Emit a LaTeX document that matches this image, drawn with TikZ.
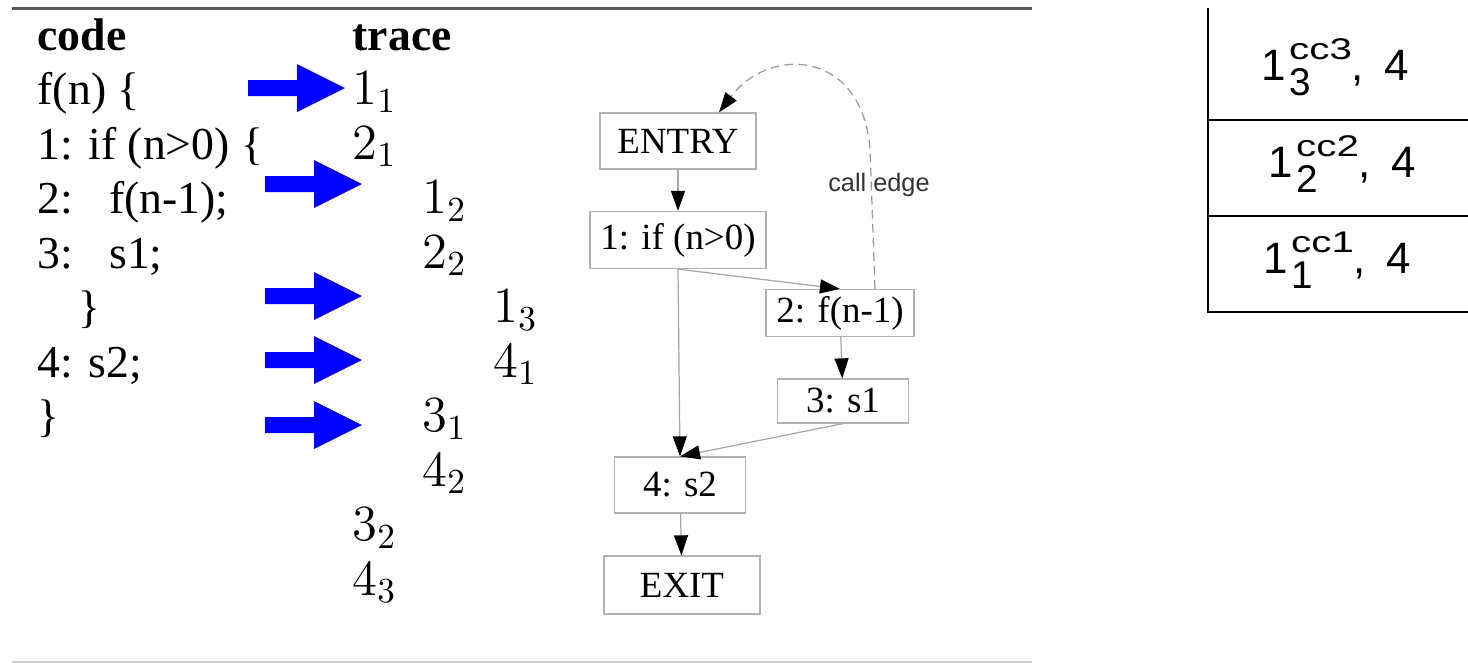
\documentclass[tikz,border=0pt]{standalone}
\usepackage[no-math]{fontspec}
\setmainfont{Liberation Serif}
\setsansfont{Liberation Sans}
\usepackage{graphicx}
\usetikzlibrary{arrows.meta}

\begin{document}
\begin{tikzpicture}[x=0.01cm,y=-0.01cm,>={Triangle[length=0.2cm,width=0.14cm,color=black]}]
  \tikzstyle{codeline}=[anchor=base west, inner sep=0pt, font=\fontsize{13}{16}\selectfont]
  \tikzstyle{head}=[anchor=base west, inner sep=0pt, font=\fontsize{13}{16}\selectfont\bfseries]
  \tikzstyle{tr}=[anchor=base west, inner sep=0pt, font=\fontsize{13.7}{16}\selectfont]
  \tikzstyle{blk}=[draw=black!30, line width=0.35pt, inner sep=0pt, font=\fontsize{10.5}{12}\selectfont]
  \tikzstyle{flow}=[draw=black!35, line width=0.35pt, ->]
  \tikzstyle{cell}=[anchor=base west, inner sep=0pt, font=\sffamily\fontsize{12.5}{14}\selectfont]

  \useasboundingbox (0,0) rectangle (1468,663);

  % rules
  \draw[black!65, line width=0.85pt] (12,8) -- (1032,8);
  \draw[black!18, line width=0.45pt] (12,662) -- (1032,662);

  % code
  \node[head] (hcode) at (37,50) {code};
  \node[codeline] (l1) at (37,104.5) {f(n) \{};
  \node[codeline] (l2) at (37,159) {1: if (n>0) \{};
  \node[codeline] (l3) at (37,213.5) {2:\hspace{0.36cm}f(n-1);};
  \node[codeline] (l4) at (37,268) {3:\hspace{0.36cm}s1;};
  \node[codeline] (l5) at (78,322.5) {\}};
  \node[codeline] (l6) at (37,377) {4: s2;};
  \node[codeline] (l7) at (37,431.5) {\}};

  % trace
  \node[head] (htrace) at (352,50) {trace};
  \node[tr] (t11) at (352,104.5) {$1_1$};
  \node[tr] (t21) at (352,159) {$2_1$};
  \node[tr] (t12) at (422,213.5) {$1_2$};
  \node[tr] (t22) at (422,268) {$2_2$};
  \node[tr] (t13) at (493,322.5) {$1_3$};
  \node[tr] (t41) at (493,377) {$4_1$};
  \node[tr] (t31) at (422,431.5) {$3_1$};
  \node[tr] (t42) at (422,486) {$4_2$};
  \node[tr] (t32) at (352,540.5) {$3_2$};
  \node[tr] (t43) at (352,595) {$4_3$};

  % blue arrows
  \foreach \y/\x in {88/248, 184/265, 296/265, 360/265, 425/265}
    \fill[blue] (\x,\y-8) -- ++(49,0) -- ++(0,-16) -- (\x+97,\y) -- (\x+49,\y+24) -- ++(0,-16) -- (\x,\y+8) -- cycle;

  % control flow graph
  \node[blk, minimum width=1.56cm, minimum height=0.56cm] (entry) at (678,141) {ENTRY};
  \node[blk, minimum width=1.76cm, minimum height=0.57cm] (ifn) at (678,240) {1: if (n>0)};
  \node[blk, minimum width=1.48cm, minimum height=0.47cm] (fcall) at (840,313) {2: f(n-1)};
  \node[blk, minimum width=1.31cm, minimum height=0.44cm] (sone) at (843,401) {3: s1};
  \node[blk, minimum width=1.31cm, minimum height=0.56cm] (stwo) at (680,485) {4: s2};
  \node[blk, minimum width=1.56cm, minimum height=0.58cm] (exit) at (682,585) {EXIT};

  \draw[flow] (entry) -- (ifn);
  \draw[flow] (ifn.south) -- (fcall.north);
  \draw[flow] (ifn.south) -- (stwo.north);
  \draw[flow] (fcall) -- (sone);
  \draw[flow] (sone.south) -- (stwo.north);
  \draw[flow] (stwo) -- (exit);
  \draw[black!40, dash pattern=on 2.5pt off 1.5pt, line width=0.35pt, ->] ([xshift=0.35cm]fcall.north) -- ++(-5,-140)
    .. controls (862,50) and (770,45) .. ([xshift=0.41cm]entry.north);
  \node[font=\sffamily\fontsize{7.2}{9}\selectfont, text=black!80] (calllbl) at (879,185) {call edge};

  % call stack
  \draw[line width=0.8pt] (1208,8) -- (1208,312) -- (1468,312);
  \draw[line width=0.8pt] (1208,120) -- (1468,120);
  \draw[line width=0.8pt] (1208,216) -- (1468,216);
  \node[cell] (cc3) at (1261,80) {1\hspace{0.03cm}\rlap{\raisebox{-0.15cm}{\fontsize{11}{11}\selectfont 3}}\raisebox{0.2cm}{\fontsize{8.5}{9}\selectfont\scalebox{1.35}[1]{cc3}}, \hspace{0.08cm}4};
  \node[cell] (cc2) at (1268,177) {1\hspace{0.03cm}\rlap{\raisebox{-0.15cm}{\fontsize{11}{11}\selectfont 2}}\raisebox{0.2cm}{\fontsize{8.5}{9}\selectfont\scalebox{1.35}[1]{cc2}}, \hspace{0.08cm}4};
  \node[cell] (cc1) at (1263,273) {1\hspace{0.03cm}\rlap{\raisebox{-0.15cm}{\fontsize{11}{11}\selectfont 1}}\raisebox{0.2cm}{\fontsize{8.5}{9}\selectfont\scalebox{1.35}[1]{cc1}}, \hspace{0.08cm}4};
\end{tikzpicture}
\end{document}
